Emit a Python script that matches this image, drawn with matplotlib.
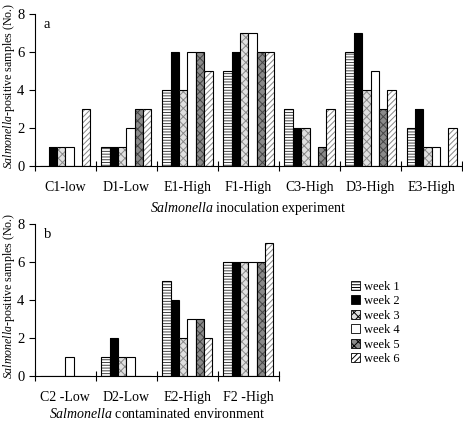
import numpy as np
import matplotlib
matplotlib.use('Agg')
from matplotlib import pyplot as plt
from matplotlib.patches import Patch

plt.rcParams['font.family'] = 'Liberation Serif'
plt.rcParams['mathtext.fontset'] = 'custom'
plt.rcParams['mathtext.rm'] = 'Liberation Serif'
plt.rcParams['mathtext.it'] = 'Liberation Serif:italic'
plt.rcParams['hatch.linewidth'] = 0.7

weeks = ['week 1', 'week 2', 'week 3', 'week 4', 'week 5', 'week 6']

groups_a = ['C1-low', 'D1-Low', 'E1-High', 'F1-High', 'C3-High', 'D3-High', 'E3-High']
week1_a = [0, 1, 4, 5, 3, 6, 2]
week2_a = [1, 1, 6, 6, 2, 7, 3]
week3_a = [1, 1, 4, 7, 2, 4, 1]
week4_a = [1, 2, 6, 7, 0, 5, 1]
week5_a = [0, 3, 6, 6, 1, 3, 0]
week6_a = [3, 3, 5, 6, 3, 4, 2]

groups_b = ['C2 -Low', 'D2-Low', 'E2-High', 'F2 -High']
week1_b = [0, 1, 5, 6]
week2_b = [0, 2, 4, 6]
week3_b = [0, 1, 2, 6]
week4_b = [1, 1, 3, 6]
week5_b = [0, 0, 3, 6]
week6_b = [0, 0, 2, 7]

# face, hatch, hatch colour
styles = [('white', '------', '#444444'),
          ('black', '', 'black'),
          ('#e0e0e0', 'xxxx', '#8a8a8a'),
          ('white', '', 'white'),
          ('#8a8a8a', 'xxxx', '#444444'),
          ('white', '//////', '#888888')]

fig = plt.figure(figsize=(4.64, 4.21), dpi=100)


def draw(ax, groups, series, letter, xlabel, xlab_pad):
    x = np.arange(len(groups)) + 0.5
    w = 0.137
    for i, vals in enumerate(series):
        face, hatch, hc = styles[i]
        pos = x + (i - 2.5) * w
        ax.bar(pos, vals, w, color=face, hatch=hatch, edgecolor=hc, linewidth=0)
        ax.bar(pos, vals, w, color='none', edgecolor='black', linewidth=0.8)
    ax.set_xlim(0, len(groups))
    ax.set_ylim(0, 8)
    ax.set_yticks([0, 2, 4, 6, 8])
    ax.set_xticks(np.arange(len(groups) + 1))
    ax.set_xticklabels([])
    ax.set_xticks(x, minor=True)
    ax.set_xticklabels(groups, minor=True)
    ax.tick_params(axis='x', which='major', direction='inout', length=7, width=0.8)
    ax.tick_params(axis='x', which='minor', length=0, pad=11, labelsize=10)
    ax.tick_params(axis='y', direction='out', length=4, width=0.8, labelsize=10.5)
    for s in ['top', 'right']:
        ax.spines[s].set_visible(False)
    ax.spines['left'].set_linewidth(0.8)
    ax.spines['bottom'].set_linewidth(0.8)
    ax.text(0.15, 7.8, letter, fontsize=10.5, va='top')
    ax.set_xlabel(xlabel, fontsize=10, labelpad=xlab_pad)
    ax.set_ylabel(r'$\it{Salmonella}$-positive samples (No.)', fontsize=8.6)
    pos = ax.get_position()
    ax.yaxis.set_label_coords(0.037, pos.y0 + pos.height / 2 + 0.01, transform=fig.transFigure)


ax1 = fig.add_axes([0.075, 0.606, 0.921, 0.361])
ax2 = fig.add_axes([0.075, 0.107, 0.526, 0.361])

draw(ax1, groups_a, [week1_a, week2_a, week3_a, week4_a, week5_a, week6_a], 'a',
     r'$\it{Salmonella}$ inoculation experiment', 4)
draw(ax2, groups_b, [week1_b, week2_b, week3_b, week4_b, week5_b, week6_b], 'b',
     r'$\it{Salmonella}$ contaminated environment', 2)

handles = []
for i, lab in enumerate(weeks):
    face, hatch, hc = styles[i]
    handles.append(Patch(facecolor=face, hatch=hatch, edgecolor='black', linewidth=0.6, label=lab))
fig.legend(handles=handles, loc='upper left', bbox_to_anchor=(0.742, 0.348), frameon=False,
           fontsize=9, handlelength=0.75, handleheight=0.75, handletextpad=0.3,
           labelspacing=0.2, borderpad=0)

fig.savefig('out.png', dpi=100)
